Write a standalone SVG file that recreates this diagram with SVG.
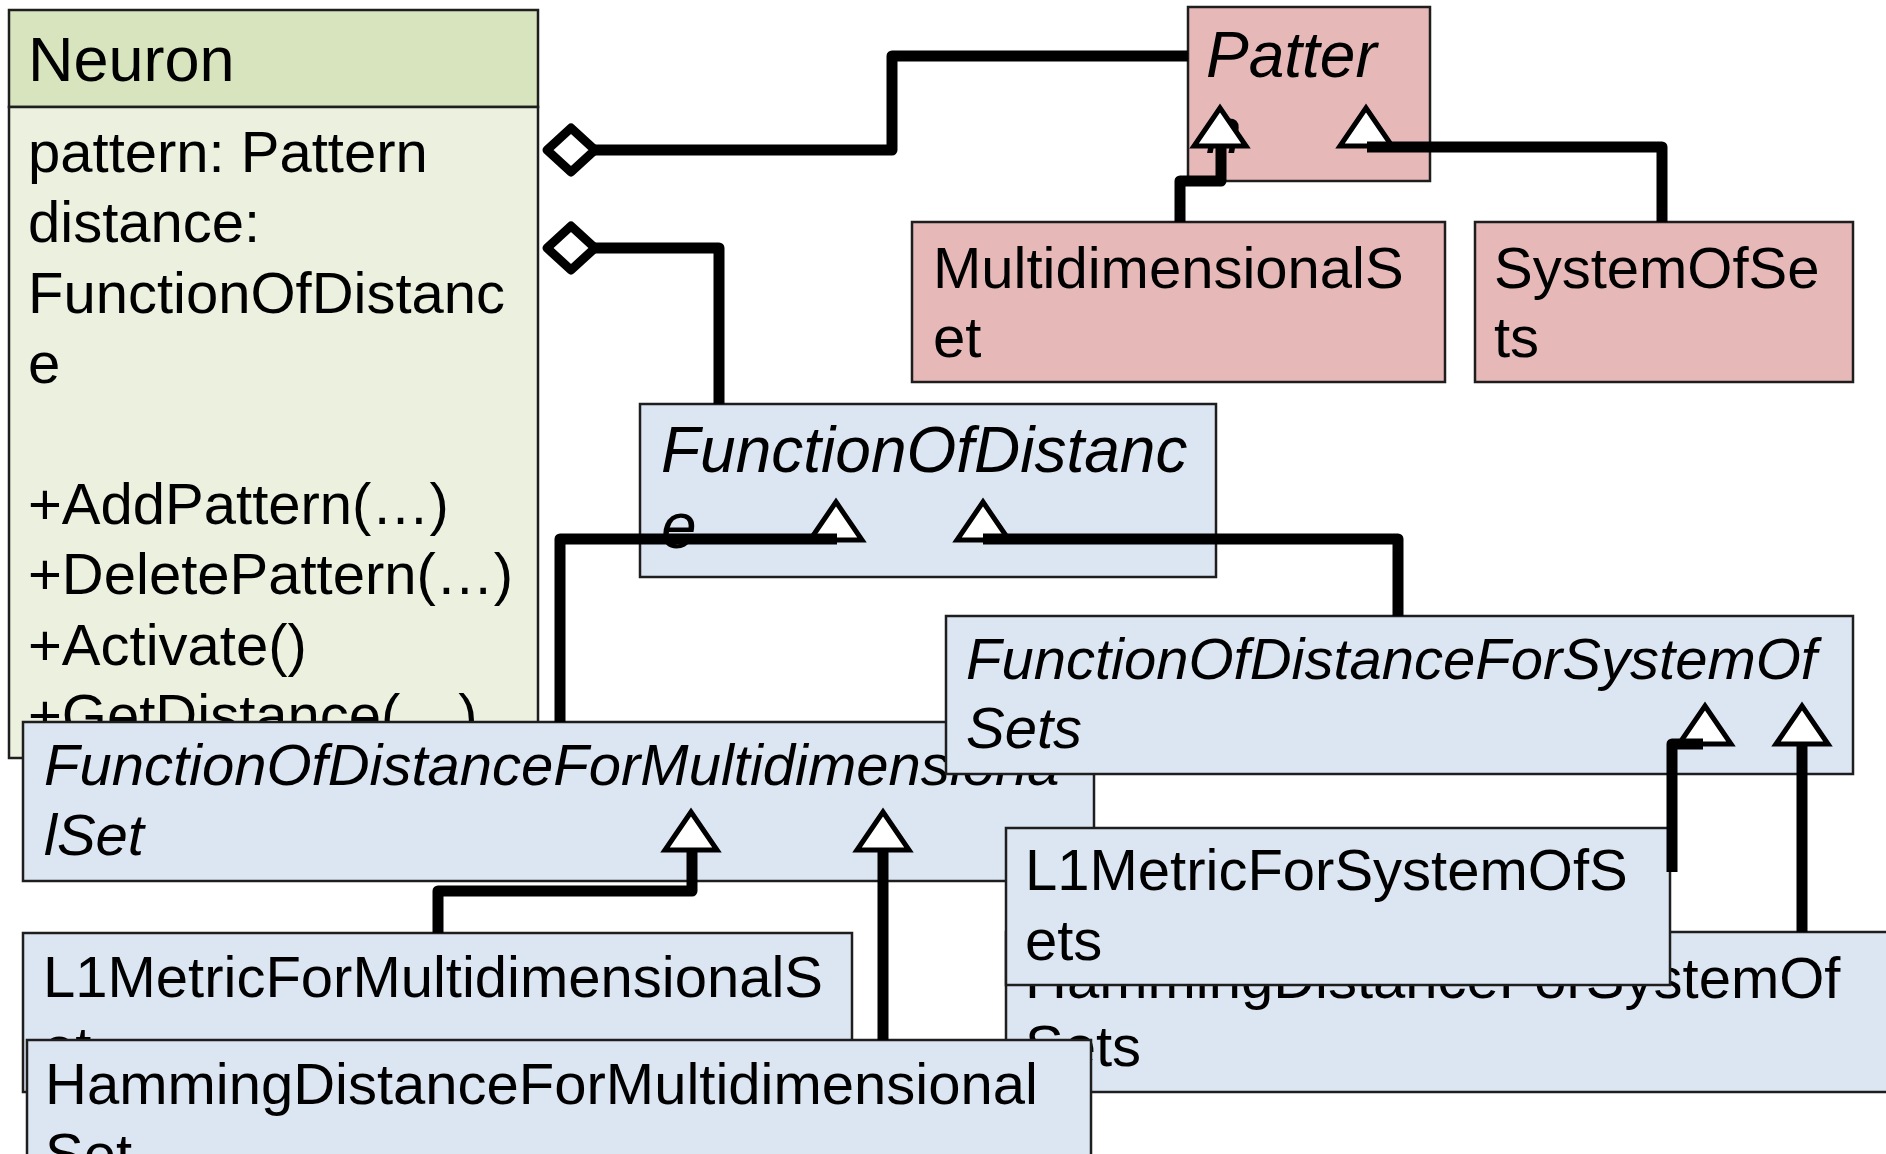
<svg xmlns="http://www.w3.org/2000/svg" xmlns:xlink="http://www.w3.org/1999/xlink" width="1886" height="1154" viewBox="0 0 1886 1154">
<style>
  .box { stroke:#1e1e1e; stroke-width:2.5; }
  .green-h { fill:#d7e4bd; }
  .green-b { fill:#ebf1de; }
  .pink { fill:#e6b9b8; }
  .blue { fill:#dce6f2; }
  text { font-family:"Liberation Sans", Arial, sans-serif; font-size:58px; fill:#000; }
  .it { font-style:italic; }
  .big { font-size:64px; }
  .conn { fill:none; stroke:#000; stroke-width:11; stroke-linejoin:round; stroke-linecap:butt; }
  .tri { fill:#fff; stroke:#000; stroke-width:5; stroke-linejoin:miter; }
  .dia { fill:#fff; stroke:#000; stroke-width:9; stroke-linejoin:round; }
</style>
<defs>
  <path id="tri" d="M0,0 L26,38 L-26,38 Z"/>
  <path id="dia" d="M0,0 L-24,-22 L-48,0 L-24,22 Z"/>
</defs>
<rect width="1886" height="1154" fill="#fff"/>

<g id="node-neuron">
  <rect class="box green-h" x="9" y="10" width="529" height="97"/>
  <rect class="box green-b" x="9" y="107" width="529" height="651"/>
  <text x="28" y="81" style="font-size:63px">Neuron</text>
  <text x="28" y="172">
    <tspan x="28">pattern: Pattern</tspan>
    <tspan x="28" dy="70.4">distance:</tspan>
    <tspan x="28" dy="70.4">FunctionOfDistanc</tspan>
    <tspan x="28" dy="70.4">e</tspan>
    <tspan x="28" dy="140.8">+AddPattern(…)</tspan>
    <tspan x="28" dy="70.4">+DeletePattern(…)</tspan>
    <tspan x="28" dy="70.4">+Activate()</tspan>
    <tspan x="28" dy="70.4">+GetDistance(…)</tspan>
  </text>
</g>

<g id="node-pattern">
  <rect class="box pink" x="1188" y="7" width="242" height="174"/>
  <text class="it big" x="1206" y="77">Patter</text>
  <text class="it big" x="1206" y="153">n</text>
</g>

<g id="node-multidimensionalset">
  <rect class="box pink" x="912" y="222" width="533" height="160"/>
  <text x="933" y="288">MultidimensionalS</text>
  <text x="933" y="357">et</text>
</g>

<g id="node-systemofsets">
  <rect class="box pink" x="1475" y="222" width="378" height="160"/>
  <text x="1494" y="288">SystemOfSe</text>
  <text x="1494" y="357">ts</text>
</g>

<g id="node-functionofdistance">
  <rect class="box blue" x="640" y="404" width="576" height="173"/>
  <text class="it big" x="661" y="472">FunctionOfDistanc</text>
  <text class="it big" x="661" y="548">e</text>
</g>

<g id="node-fod-multidimensionalset">
  <rect class="box blue" x="23" y="722" width="1071" height="159"/>
  <text class="it" x="44" y="785">FunctionOfDistanceForMultidimensiona</text>
  <text class="it" x="44" y="855">lSet</text>
</g>

<g id="node-fod-systemofsets">
  <rect class="box blue" x="946" y="616" width="907" height="158"/>
  <text class="it" x="966" y="679">FunctionOfDistanceForSystemOf</text>
  <text class="it" x="966" y="748">Sets</text>
</g>

<g id="node-l1-multidimensionalset">
  <rect class="box blue" x="23" y="933" width="829" height="159"/>
  <text x="43" y="997">L1MetricForMultidimensionalS</text>
  <text x="43" y="1067">et</text>
</g>

<g id="node-hamming-systemofsets">
  <rect class="box blue" x="1006" y="932" width="900" height="160"/>
  <text x="1025" y="998">HammingDistanceForSystemOf</text>
  <text x="1025" y="1066">Sets</text>
</g>

<g id="node-l1-systemofsets">
  <rect class="box blue" x="1006" y="828" width="664" height="157"/>
  <text x="1025" y="890">L1MetricForSystemOfS</text>
  <text x="1025" y="960">ets</text>
</g>

<g id="node-hamming-multidimensionalset">
  <rect class="box blue" x="27" y="1040" width="1064" height="140"/>
  <text x="45" y="1104">HammingDistanceForMultidimensional</text>
  <text x="45" y="1174">Set</text>
</g>

<g id="connectors">
  <use href="#tri" xlink:href="#tri" class="tri" x="1220" y="108"/>
  <use href="#tri" xlink:href="#tri" class="tri" x="1366" y="108"/>
  <use href="#tri" xlink:href="#tri" class="tri" x="836" y="502"/>
  <use href="#tri" xlink:href="#tri" class="tri" x="983" y="502"/>
  <use href="#tri" xlink:href="#tri" class="tri" x="1705" y="706"/>
  <use href="#tri" xlink:href="#tri" class="tri" x="1802" y="706"/>
  <use href="#tri" xlink:href="#tri" class="tri" x="691" y="812"/>
  <use href="#tri" xlink:href="#tri" class="tri" x="883" y="812"/>

  <path class="conn" d="M595,150 H892 V56 H1188"/>
  <path class="conn" d="M595,248 H719 V404"/>
  <use href="#dia" xlink:href="#dia" class="dia" x="595" y="150"/>
  <use href="#dia" xlink:href="#dia" class="dia" x="595" y="248"/>

  <path class="conn" d="M1180,222 V181 H1221 V146"/>
  <path class="conn" d="M1662,222 V147 H1367"/>
  <path class="conn" d="M560,722 V539 H837"/>
  <path class="conn" d="M1398,616 V539 H983"/>
  <path class="conn" d="M438,933 V891 H692 V850"/>
  <path class="conn" d="M883,1040 V850"/>
  <path class="conn" d="M1672,872 V744 H1703"/>
  <path class="conn" d="M1802,932 V744"/>
</g>
</svg>
